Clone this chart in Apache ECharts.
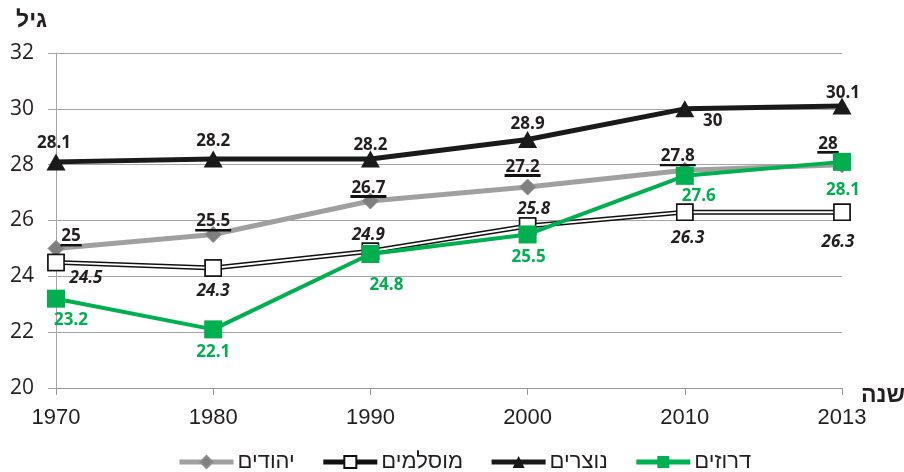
<!DOCTYPE html>
<html><head><meta charset="utf-8">
<script src="https://cdn.jsdelivr.net/npm/echarts@6/dist/echarts.min.js"></script>
<style>html,body{margin:0;padding:0;background:#fff}#c{width:904px;height:472px}</style>
</head><body><div id="c"></div>
<script>
const years = ['1970', '1980', '1990', '2000', '2010', '2013'];
const jews = [25, 25.5, 26.7, 27.2, 27.8, 28];
const muslims = [24.5, 24.3, 24.9, 25.8, 26.3, 26.3];
const christians = [28.1, 28.2, 28.2, 28.9, 30, 30.1];
const druze = [23.2, 22.1, 24.8, 25.5, 27.6, 28.1];
const yTicks = [20, 22, 24, 26, 28, 30, 32];
const names = ['יהודים', 'מוסלמים', 'נוצרים', 'דרוזים'];
const yTitle = 'גיל';
const xTitle = 'שנה';

// label layout offsets (px) relative to each point
const jewsOff = [[15,-12],[0,-13],[-2,-13],[-5,-20],[-7,-14],[-14,-21]];
const muslimsOff = [[30,16],[0,23],[-2,-16],[6,-17],[3,26],[-4,30]];
const christOff = [[-2,-19],[0,-18],[0,-14],[0,-15],[28,12],[1,-13]];
const druzeOff = [[15,21],[0,23],[16,31],[1,23],[14,20],[1,28]];

const FONT = 'Open Sans';
const TXT = '#231f20';
const underline = new echarts.graphic.LinearGradient(0, 0, 0, 1, [
  {offset: 0, color: 'rgba(0,0,0,0)'},
  {offset: 0.87, color: 'rgba(0,0,0,0)'},
  {offset: 0.87, color: '#111'},
  {offset: 1, color: '#111'}
]);

function withLabels(vals, offs, labelStyle) {
  return vals.map((v, i) => ({
    value: v,
    label: Object.assign({show: true, position: 'inside', offset: offs[i]}, labelStyle)
  }));
}

const chart = echarts.init(document.getElementById('c'), null, {renderer: 'canvas'});
chart.setOption({
  animation: false,
  backgroundColor: '#fff',
  grid: {left: 56, right: 62, top: 53, bottom: 84, containLabel: false},
  xAxis: {
    type: 'category', data: years, boundaryGap: false,
    axisLine: {lineStyle: {color: '#9a9a9a', width: 1}},
    axisTick: {show: true, alignWithLabel: true, length: 7, lineStyle: {color: '#9a9a9a'}},
    axisLabel: {fontFamily: 'Liberation Sans', fontSize: 22, color: TXT, margin: 19},
    splitLine: {show: false}
  },
  yAxis: {
    type: 'value', min: yTicks[0], max: yTicks[yTicks.length - 1], interval: 2,
    axisLine: {show: true, lineStyle: {color: '#a6a6a6', width: 1}},
    axisTick: {show: true, length: 8, lineStyle: {color: '#a6a6a6'}},
    axisLabel: {fontFamily: FONT, fontSize: 21, color: TXT, margin: 22},
    splitLine: {lineStyle: {color: '#a6a6a6', width: 1}}
  },
  legend: {
    left: 177, top: 451, padding: 0, itemWidth: 54, itemHeight: 15, itemGap: 26,
    textStyle: {fontFamily: 'Liberation Sans', fontSize: 22, color: TXT, padding: [0, 0, 0, -1]},
    data: [
      {name: names[0], lineStyle: {width: 5}},
      {name: names[1], lineStyle: {width: 5}},
      {name: names[2], lineStyle: {width: 5}},
      {name: names[3], lineStyle: {width: 5}}
    ]
  },
  graphic: [
    {type: 'text', left: 16, top: 9, style: {text: yTitle, fontFamily: 'Liberation Sans', fontWeight: 'bold', fontSize: 23, fill: TXT}},
    {type: 'text', left: 861, top: 384, style: {text: xTitle, fontFamily: 'Liberation Sans', fontWeight: 'bold', fontSize: 23, fill: TXT}}
  ],
  series: [
    {
      name: names[0], type: 'line', z: 2,
      data: withLabels(jews, jewsOff, {
        fontFamily: FONT, fontWeight: 'bold', fontSize: 17, color: TXT,
        backgroundColor: underline, padding: [0, 1, 3, 1]
      }),
      lineStyle: {color: '#a0a0a0', width: 5},
      symbol: 'diamond', symbolSize: 16,
      itemStyle: {color: '#7f7f7f', borderColor: '#8c8c8c', borderWidth: 1}
    },
    {
      name: names[1], type: 'line', z: 3, silent: true,
      data: muslims,
      lineStyle: {color: '#111', width: 5},
      symbol: 'rect', symbolSize: 16,
      itemStyle: {color: '#fff', borderColor: '#111', borderWidth: 1.5}
    },
    {
      name: names[1], type: 'line', z: 4,
      data: withLabels(muslims, muslimsOff, {
        fontFamily: FONT, fontWeight: 'bold', fontStyle: 'italic', fontSize: 17, color: TXT
      }),
      lineStyle: {color: '#fff', width: 2},
      symbol: 'rect', symbolSize: 16,
      itemStyle: {color: '#fff', borderColor: '#111', borderWidth: 1.5}
    },
    {
      name: names[2], type: 'line', z: 5,
      data: withLabels(christians, christOff, {
        fontFamily: FONT, fontWeight: 'bold', fontSize: 17, color: TXT
      }),
      lineStyle: {color: '#1a1a1a', width: 5},
      symbol: 'triangle', symbolSize: [19, 17],
      itemStyle: {color: '#1a1a1a'}
    },
    {
      name: names[3], type: 'line', z: 6,
      data: withLabels(druze, druzeOff, {
        fontFamily: FONT, fontWeight: 'bold', fontSize: 17, color: '#00b050'
      }),
      lineStyle: {color: '#00b050', width: 4},
      symbol: 'rect', symbolSize: 18,
      itemStyle: {color: '#00b050'}
    }
  ]
});
</script></body></html>
